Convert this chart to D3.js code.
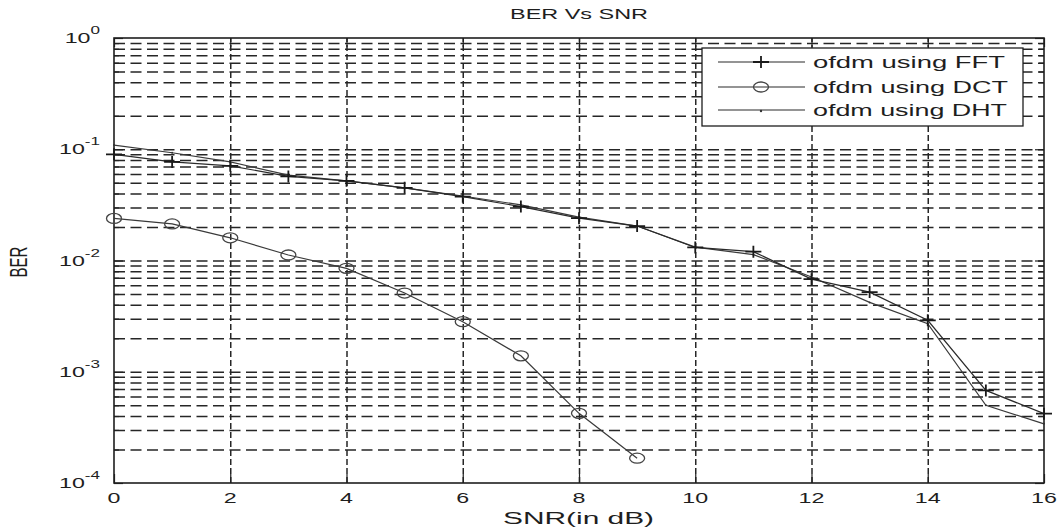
<!DOCTYPE html>
<html>
<head>
<meta charset="utf-8">
<script src="https://cdn.jsdelivr.net/npm/d3@7/dist/d3.min.js"></script>
<style>
  body { margin: 0; background: #fff; }
  text { font-family: "Liberation Sans", Arial, sans-serif; fill: #1e1e1e; }
</style>
</head>
<body>
<svg id="chart" width="1063" height="529"></svg>
<script>
// values
const snr = [0, 1, 2, 3, 4, 5, 6, 7, 8, 9, 10, 11, 12, 13, 14, 15, 16];
const berFFT = [0.090, 0.077, 0.071, 0.057, 0.052, 0.045, 0.0375, 0.0305, 0.024, 0.0204,
                0.0131, 0.0120, 0.0068, 0.0052, 0.0029, 0.00068, 0.00042];
const snrDCT = [0, 1, 2, 3, 4, 5, 6, 7, 8, 9];
const berDCT = [0.0239, 0.0213, 0.0160, 0.0112, 0.0085, 0.0051, 0.00282, 0.00139, 0.000423, 0.000167];
const berDHT = [0.109, 0.093, 0.077, 0.0585, 0.052, 0.045, 0.038, 0.0316, 0.0245, 0.0204,
                0.0132, 0.0113, 0.0071, 0.0042, 0.0027, 0.00050, 0.00034];

const xTicks = [0, 2, 4, 6, 8, 10, 12, 14, 16];
const yMajor = [1e-4, 1e-3, 1e-2, 1e-1, 1];
const yExp = ["-4", "-3", "-2", "-1", "0"];
const names = ["ofdm using FFT", "ofdm using DCT", "ofdm using DHT"];

const width = 1063, height = 529;
const plotL = 114, plotR = 1044, plotT = 38, plotB = 483;
const SX = 1.55; // picture is stretched sideways, text too

const svg = d3.select("#chart");

const x = d3.scaleLinear().domain([0, 16]).range([plotL, plotR]);
const y = d3.scaleLog().domain([1e-4, 1]).range([plotB, plotT]);

const minorY = y.ticks().filter(v => !yMajor.some(m => Math.abs(m - v) / m < 1e-6));
const gridY = y.ticks().filter(v => v > 1.0001e-4 && v < 0.9999);

// grid
svg.append("g")
  .attr("class", "grid")
  .attr("transform", `translate(${plotL},0)`)
  .call(d3.axisLeft(y).tickValues(gridY).tickSize(-(plotR - plotL)).tickFormat(""))
  .call(g => g.select(".domain").remove())
  .selectAll("line")
  .attr("stroke", "#262626")
  .attr("stroke-width", 1.5)
  .attr("stroke-dasharray", "11,5.5");

svg.append("g")
  .attr("class", "grid")
  .attr("transform", `translate(0,${plotB})`)
  .call(d3.axisBottom(x).tickValues(xTicks.slice(1, -1)).tickSize(-(plotB - plotT)).tickFormat(""))
  .call(g => g.select(".domain").remove())
  .selectAll("line")
  .attr("stroke", "#262626")
  .attr("stroke-width", 1.5)
  .attr("stroke-dasharray", "6,3");

// inward ticks on all four sides
const tickStyle = g => {
  g.select(".domain").remove();
  g.selectAll("line").attr("stroke", "#222").attr("stroke-width", 1.2);
};
svg.append("g").attr("transform", `translate(0,${plotB})`)
  .call(d3.axisBottom(x).tickValues(xTicks).tickSize(-9).tickFormat("")).call(tickStyle);
svg.append("g").attr("transform", `translate(0,${plotT})`)
  .call(d3.axisTop(x).tickValues(xTicks).tickSize(-9).tickFormat("")).call(tickStyle);
svg.append("g").attr("transform", `translate(${plotL},0)`)
  .call(d3.axisLeft(y).tickValues(yMajor).tickSize(-9).tickFormat("")).call(tickStyle);
svg.append("g").attr("transform", `translate(${plotL},0)`)
  .call(d3.axisLeft(y).tickValues(minorY).tickSize(-5).tickFormat("")).call(tickStyle);
svg.append("g").attr("transform", `translate(${plotR},0)`)
  .call(d3.axisRight(y).tickValues(yMajor).tickSize(-9).tickFormat("")).call(tickStyle);
svg.append("g").attr("transform", `translate(${plotR},0)`)
  .call(d3.axisRight(y).tickValues(minorY).tickSize(-5).tickFormat("")).call(tickStyle);

// frame
svg.append("rect")
  .attr("x", plotL).attr("y", plotT)
  .attr("width", plotR - plotL).attr("height", plotB - plotT)
  .attr("fill", "none").attr("stroke", "#1e1e1e").attr("stroke-width", 1.6);

// tick labels
svg.append("g").selectAll("g")
  .data(xTicks)
  .join("g")
  .attr("transform", d => `translate(${x(d)},503) scale(${SX},1)`)
  .append("text")
  .attr("text-anchor", "middle")
  .attr("font-size", 15)
  .text(d => d);

const yLab = svg.append("g").selectAll("g")
  .data(yMajor)
  .join("g")
  .attr("transform", d => `translate(100,${y(d) + 5}) scale(${SX},1)`)
  .append("text")
  .attr("text-anchor", "end")
  .attr("font-size", 15);
yLab.append("tspan").text("10");
yLab.append("tspan").attr("dy", -9).attr("font-size", 11).text((d, i) => yExp[i]);

// titles
svg.append("text")
  .attr("x", 510).attr("y", 19)
  .attr("font-size", 15)
  .attr("textLength", 138).attr("lengthAdjust", "spacingAndGlyphs")
  .text("BER Vs SNR");
svg.append("text")
  .attr("x", 503).attr("y", 524)
  .attr("font-size", 16)
  .attr("textLength", 151).attr("lengthAdjust", "spacingAndGlyphs")
  .text("SNR(in dB)");
svg.append("g").attr("transform", `translate(27,262) rotate(-90) scale(1,${SX})`)
  .append("text").attr("text-anchor", "middle").attr("font-size", 15).text("BER");

// series
const line = d3.line().x(d => x(d[0])).y(d => y(d[1]));
const fft = snr.map((s, i) => [s, berFFT[i]]);
const dct = snrDCT.map((s, i) => [s, berDCT[i]]);
const dht = snr.map((s, i) => [s, berDHT[i]]);

const plus = "M-8,0H8M0,-6V6";

svg.append("path").datum(dht).attr("d", line)
  .attr("fill", "none").attr("stroke", "#3a3a3a").attr("stroke-width", 1.2);
svg.append("g").selectAll("circle").data(dht).join("circle")
  .attr("cx", d => x(d[0])).attr("cy", d => y(d[1])).attr("r", 1).attr("fill", "#333");

svg.append("path").datum(fft).attr("d", line)
  .attr("fill", "none").attr("stroke", "#2a2a2a").attr("stroke-width", 1.2);
svg.append("g").selectAll("path").data(fft).join("path")
  .attr("transform", d => `translate(${x(d[0])},${y(d[1])})`)
  .attr("d", plus).attr("stroke", "#1a1a1a").attr("stroke-width", 1.8);

svg.append("path").datum(dct).attr("d", line)
  .attr("fill", "none").attr("stroke", "#3a3a3a").attr("stroke-width", 1.2);
svg.append("g").selectAll("ellipse").data(dct).join("ellipse")
  .attr("cx", d => x(d[0])).attr("cy", d => y(d[1]))
  .attr("rx", 7.5).attr("ry", 5)
  .attr("fill", "none").attr("stroke", "#444").attr("stroke-width", 1.3);

// legend
const legend = svg.append("g");
legend.append("rect")
  .attr("x", 702).attr("y", 48).attr("width", 321).attr("height", 78)
  .attr("fill", "#fff").attr("stroke", "#1e1e1e").attr("stroke-width", 1.3);

const rows = [62, 87, 110];
const textW = [192, 195, 194];
names.forEach((name, i) => {
  const ry = rows[i];
  legend.append("line")
    .attr("x1", 718).attr("x2", 805).attr("y1", ry).attr("y2", ry)
    .attr("stroke", "#2a2a2a").attr("stroke-width", 1.2);
  if (i === 0) {
    legend.append("path").attr("transform", `translate(761,${ry})`)
      .attr("d", plus).attr("stroke", "#1a1a1a").attr("stroke-width", 1.8);
  } else if (i === 1) {
    legend.append("ellipse").attr("cx", 761).attr("cy", ry).attr("rx", 7.5).attr("ry", 5)
      .attr("fill", "none").attr("stroke", "#444").attr("stroke-width", 1.3);
  } else {
    legend.append("circle").attr("cx", 761).attr("cy", ry + 1).attr("r", 1.2).attr("fill", "#333");
  }
  legend.append("text")
    .attr("x", 813).attr("y", ry + 6)
    .attr("font-size", 16)
    .attr("textLength", textW[i])
    .attr("lengthAdjust", "spacingAndGlyphs")
    .text(name);
});
</script>
</body>
</html>
